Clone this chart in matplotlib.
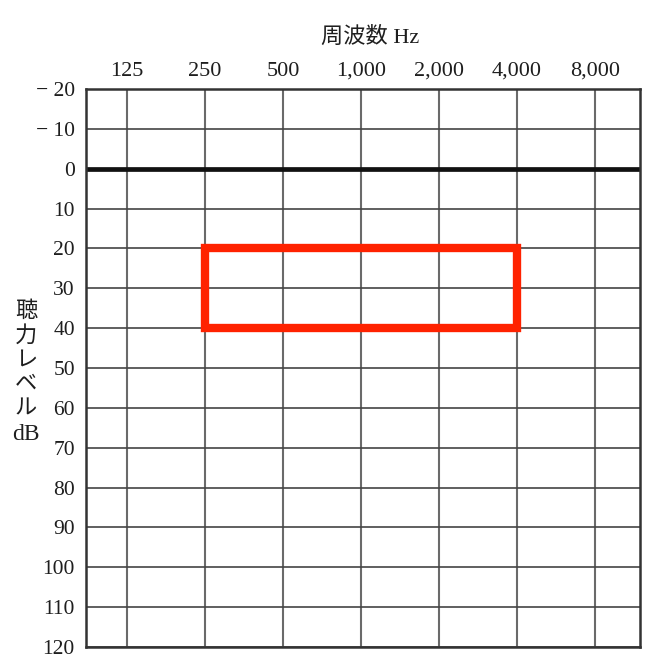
import matplotlib
matplotlib.use("Agg")
import matplotlib.pyplot as plt
from matplotlib.patches import Rectangle
from matplotlib.ticker import FixedLocator, NullLocator

# audiogram frame
freqs = [125, 250, 500, 1000, 2000, 4000, 8000]
freq_labels = ["125", "250", "500", "1,000", "2,000", "4,000", "8,000"]
levels = list(range(-20, 121, 10))
level_labels = [f"\u2212 {-v}" if v < 0 else str(v) for v in levels]
x_range = (86.8, 11930)

# highlighted region
box_freq = (250, 4000)
box_level = (20, 40)

fig = plt.figure(figsize=(6.68, 6.70), dpi=100)
ax = fig.add_axes([86 / 668, 1 - 647 / 670, 554 / 668, 558 / 670])
ax.set_xscale("log", base=2)
ax.set_xlim(*x_range)
ax.set_ylim(levels[-1], levels[0])

ax.xaxis.set_major_locator(FixedLocator(freqs))
ax.xaxis.set_minor_locator(NullLocator())
ax.set_xticklabels(freq_labels)
ax.yaxis.set_major_locator(FixedLocator(levels))
ax.set_yticklabels(level_labels)
ax.xaxis.tick_top()
ax.tick_params(length=0, colors="#1e1e1e")
ax.tick_params(axis="x", pad=6, labelsize=16)
ax.tick_params(axis="y", pad=8, labelsize=15.5)
for lab in ax.get_xticklabels() + ax.get_yticklabels():
    lab.set_fontfamily("Liberation Serif")

for f in freqs:
    ax.axvline(f, color="#6a6a6a", lw=1.5, zorder=1)
for v in levels:
    if v == 0:
        ax.axhline(v, color="#111111", lw=3.4, zorder=2)
    else:
        ax.axhline(v, color="#444444", lw=1.2, zorder=1)

for s in ax.spines.values():
    s.set_color("#333333")
    s.set_linewidth(1.8)

ax.add_patch(Rectangle((box_freq[0], box_level[0]),
                       box_freq[1] - box_freq[0], box_level[1] - box_level[0],
                       fill=False, edgecolor="#ff2200", lw=6, zorder=3,
                       joinstyle="miter"))

serif_cjk = ["Liberation Serif", "Noto Sans CJK JP"]
fig.text(370 / 668, 1 - 37 / 670, "周波数 Hz", ha="center", va="center",
         fontsize=16, family=serif_cjk, color="#1e1e1e")
ylab = ["聴", "力", "レ", "ベ", "ル", "dB"]
for i, ch in enumerate(ylab):
    fig.text(26 / 668, 1 - (312 + 24.5 * i) / 670, ch, ha="center",
             va="center", fontsize=17 if ch == "dB" else 16,
             family=serif_cjk, color="#1e1e1e")

fig.savefig("out.png", dpi=100)
